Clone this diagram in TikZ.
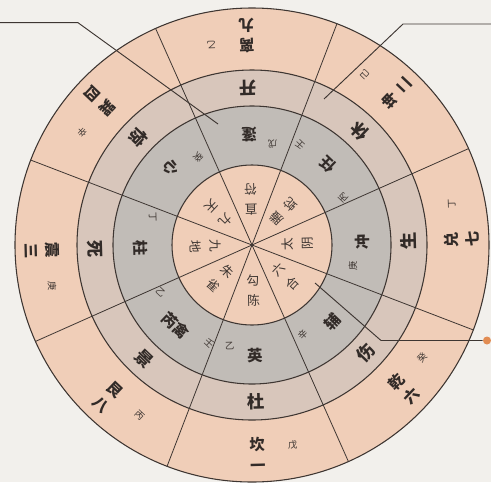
\documentclass[tikz,border=0pt]{standalone}
\usepackage{fontspec}
\newfontfamily\cjk{Noto Sans CJK SC}

\definecolor{peach}{RGB}{240,206,184}
\definecolor{band}{RGB}{216,198,187}
\definecolor{stone}{RGB}{193,188,183}
\definecolor{paper}{RGB}{242,240,236}
\definecolor{ink}{RGB}{62,54,50}
\definecolor{dotorange}{RGB}{226,140,82}

\tikzset{every picture/.style={line width=0.75pt}}
\tikzset{
  ring/.style={draw=ink, line width=0.8pt},
  spoke/.style={draw=ink, line width=0.6pt},
  leader/.style={draw=ink, line width=0.7pt},
  guachar/.style={font=\cjk\bfseries\fontsize{11.5}{15.5}\selectfont, text=ink!80!black, inner sep=0pt, align=center},
  bigchar/.style={font=\cjk\bfseries\fontsize{11.5}{11.5}\selectfont, text=ink!80!black, inner sep=0pt},
  doorchar/.style={font=\cjk\bfseries\fontsize{13}{13}\selectfont, text=ink!80!black, inner sep=0pt},
  stemchar/.style={font=\cjk\fontsize{7}{7}\selectfont, text=ink, inner sep=0pt},
  godchar/.style={font=\cjk\fontsize{9.5}{15}\selectfont, text=ink, inner sep=0pt, align=center},
}

\begin{document}
\begin{tikzpicture}[x=0.75pt,y=0.75pt,yscale=-1,xscale=1]
	\fill[paper] (0,0) rectangle (491,482);
	\useasboundingbox (0,0) rectangle (491,482);

	% rings and spokes, angles counted as usual from the centre
	\begin{scope}[shift={(252,245)},yscale=-1]
		\coordinate (c) at (0,0);
		\filldraw[ring, fill=peach] (c) circle (237);
		\filldraw[ring, fill=band] (c) circle (175);
		\filldraw[ring, fill=stone] (c) circle (139);
		\filldraw[ring, fill=peach] (c) circle (80);
		\foreach \a in {24,69,...,339}
			\draw[spoke] (c) -- (\a:237);

		% palaces: angle / gua / number / earth stem / door / star / star stem offset / star stem / god
		\foreach \a/\gua/\shu/\dz/\door/\xing/\xo/\xs/\ga/\gb [count=\i] in {
			91.5/离/九/乙/开/蓬/-13/戊/直/符,
			46.5/坤/二/己/休/任/-19/丙/螣/蛇,
			1.5/兑/七/丁/生/冲/-13/庚/太/阴,
			-43.5/乾/六/癸/伤/辅/-17/辛/六/合,
			-88.5/坎/一/戊/杜/英/-14/乙/勾/陈,
			-133.5/艮/八/丙/景/芮禽/-19/乙/朱/雀,
			181.5/震/三/庚/死/柱/-17/丁/九/地,
			136.5/巽/四/辛/惊/心/-15/癸/九/天}
		{
			\node[guachar, rotate=\a+90] (gua\i) at (\a:209.5) {\gua\\\shu};
			\node[stemchar, rotate=\a+90] (dz\i) at (\a+10:204) {\dz};
			\node[doorchar, rotate=\a+90] (door\i) at (\a:157) {\door};
			\node[bigchar, rotate=\a+90] (xing\i) at (\a:111) {\xing};
			\node[stemchar, rotate=\a+90] (xs\i) at (\a+\xo:103) {\xs};
			\node[godchar, rotate=\a+90] (god\i) at (\a:46) {\ga\\\gb};
		}
		\node[stemchar, rotate=136.5] (ren1) at (64.5:111) {壬};
		\node[stemchar, rotate=-43.5] (ren2) at (-113.5:107) {壬};
	\end{scope}

	% leaders
	\coordinate (l1a) at (0,22.7);
	\coordinate (l1b) at (78,22.7);
	\coordinate (l1c) at (218,124);
	\draw[leader] (l1a) -- (l1b) -- (l1c);
	\coordinate (l2a) at (491,24);
	\coordinate (l2b) at (403,24);
	\coordinate (l2c) at (324,99);
	\draw[leader] (l2a) -- (l2b) -- (l2c);
	\node[circle, fill=dotorange, inner sep=0pt, minimum size=6pt] (dot) at (487,340.5) {};
	\coordinate (l3b) at (381,340.5);
	\coordinate (l3c) at (315,283);
	\draw[leader] (dot) -- (l3b) -- (l3c);
\end{tikzpicture}
\end{document}
